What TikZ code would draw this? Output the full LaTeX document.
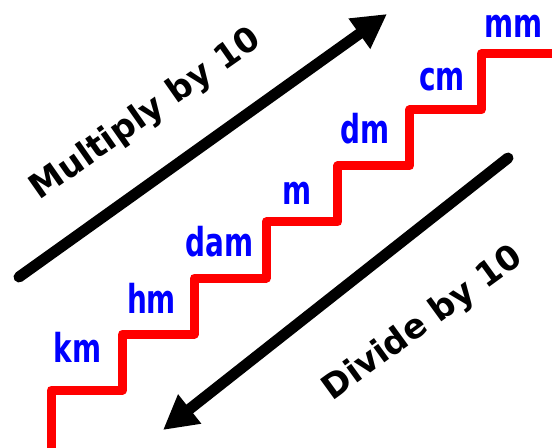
\documentclass[tikz,border=0pt]{standalone}
\usepackage{fontspec}
\setmainfont{DejaVu Sans}
\newfontfamily\unitfont[FakeStretch=0.7]{DejaVu Sans Bold}
\usetikzlibrary{arrows.meta}

\begin{document}
\begin{tikzpicture}[x=1bp, y=-1bp,
	stairline/.style={red, line width=9bp, line join=round},
	bigarrow/.style={line width=11bp, line cap=round, -{Triangle[length=34bp,width=35bp]}},
	unitlabel/.style={blue, font=\unitfont\fontsize{40}{44}\selectfont, inner sep=0pt},
	arrowtext/.style={font=\bfseries\fontsize{34}{40}\selectfont, inner sep=0pt}]
			\useasboundingbox (0,0) rectangle (552,448);

			% Staircase
			\draw[stairline] (51,460) -- (51,390)
				-- (122.7,390) -- (122.7,334)
				-- (194.4,334) -- (194.4,278)
				-- (266.1,278) -- (266.1,222)
				-- (337.8,222) -- (337.8,166)
				-- (409.5,166) -- (409.5,110)
				-- (481.2,110) -- (481.2,54)
				-- (560,54);

			% Units on the steps
			\node[unitlabel] (km)  at (77.5,347)  {km};
			\node[unitlabel] (hm)  at (151.5,298) {hm};
			\node[unitlabel] (dam) at (219.5,242) {dam};
			\node[unitlabel] (m)   at (297,193.5) {m};
			\node[unitlabel] (dm)  at (365,129)   {dm};
			\node[unitlabel] (cm)  at (442,80)    {cm};
			\node[unitlabel] (mm)  at (513.5,26)  {mm};

			% Arrow up: multiply
			\coordinate (mulstart) at (19,277);
			\coordinate (multip)   at (387,14);
			\draw[bigarrow] (mulstart) -- (multip);
			\node[arrowtext, rotate=35] (multext) at (146,115) {Multiply by 10};

			% Arrow down: divide
			\coordinate (divstart) at (508,158);
			\coordinate (divtip)   at (163,430);
			\draw[bigarrow] (divstart) -- (divtip);
			\node[arrowtext, rotate=36] (divtext) at (423,324) {Divide by 10};
		\end{tikzpicture}
\end{document}
